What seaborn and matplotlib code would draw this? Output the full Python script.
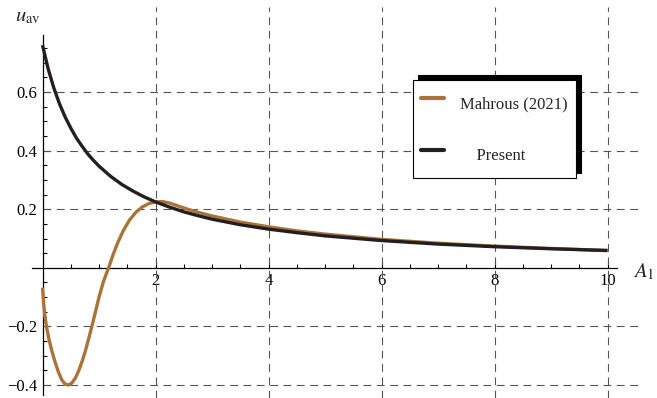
import numpy as np
import pandas as pd
import matplotlib
matplotlib.use("Agg")
import matplotlib.pyplot as plt
import seaborn as sns
from matplotlib.ticker import FixedLocator

# ---------------- data ----------------
mahrous_x = [0.00, 0.02, 0.04, 0.07, 0.11, 0.16, 0.22, 0.28, 0.34, 0.40, 0.46,
             0.52, 0.58, 0.64, 0.70, 0.76, 0.82, 0.88, 0.94, 1.00, 1.08, 1.17,
             1.25, 1.33, 1.43, 1.54, 1.65, 1.77, 1.88, 2.00, 2.12, 2.25, 2.40,
             2.60, 2.80, 3.00, 3.50, 4.00, 4.50, 5.00, 6.00, 7.00, 8.00, 9.00, 10.0]
mahrous_y = [-0.068, -0.120, -0.160, -0.200, -0.240, -0.280, -0.320, -0.355,
             -0.382, -0.397, -0.400, -0.393, -0.377, -0.352, -0.320, -0.283,
             -0.240, -0.195, -0.148, -0.100, -0.046, 0.000, 0.045, 0.085,
             0.127, 0.163, 0.189, 0.208, 0.219, 0.225, 0.226, 0.221, 0.211,
             0.198, 0.187, 0.177, 0.156, 0.140, 0.126, 0.115, 0.097, 0.084,
             0.074, 0.066, 0.059]

present_x = [0.0, 0.1, 0.2, 0.3, 0.4, 0.5, 0.6, 0.7, 0.8, 0.9, 1.0, 1.2, 1.4,
             1.6, 1.8, 2.0, 2.25, 2.5, 2.75, 3.0, 3.5, 4.0, 4.5, 5.0, 5.5, 6.0,
             7.0, 8.0, 9.0, 10.0]
present_y = [0.760, 0.679, 0.614, 0.560, 0.515, 0.477, 0.443, 0.415, 0.389,
             0.367, 0.347, 0.313, 0.285, 0.262, 0.242, 0.225, 0.207, 0.191,
             0.178, 0.166, 0.147, 0.132, 0.120, 0.109, 0.101, 0.093, 0.081,
             0.072, 0.065, 0.059]

series_names = ["Mahrous (2021)", "Present"]
legend_labels = ["Mahrous (2021)", "    Present"]
series_colors = ["#A8743A", "#231F20"]
x_ticks = [2, 4, 6, 8, 10]
y_ticks = [-0.4, -0.2, 0.2, 0.4, 0.6]
x_label = r"$A_{1}$"
y_label = r"$u_{\mathrm{av}}$"

df = pd.concat([
    pd.DataFrame({"x": mahrous_x, "y": mahrous_y, "series": series_names[0]}),
    pd.DataFrame({"x": present_x, "y": present_y, "series": series_names[1]}),
], ignore_index=True)

# ---------------- style ----------------
sns.set_style("white")
plt.rcParams["font.family"] = ["Liberation Serif", "DejaVu Serif"]
plt.rcParams["mathtext.fontset"] = "stix"
plt.rcParams["axes.unicode_minus"] = True

W, H = 657, 398
fig = plt.figure(figsize=(W / 100, H / 100), dpi=100)

xlim = (-0.25, 10.59)
ylim = (-0.444, 0.891)
x0px, xscale = 42.5, 56.5
y0px, yscale = 267.8, 293.0
left_px = x0px + xlim[0] * xscale
right_px = x0px + xlim[1] * xscale
top_px = y0px - ylim[1] * yscale
bot_px = y0px - ylim[0] * yscale
ax = fig.add_axes([left_px / W, 1 - bot_px / H, (right_px - left_px) / W, (bot_px - top_px) / H])
ax.set_facecolor("none")
fig.patch.set_facecolor("white")

sns.lineplot(data=df, x="x", y="y", hue="series", hue_order=series_names,
             palette=dict(zip(series_names, series_colors)), linewidth=2.4,
             sort=False, estimator=None, ax=ax, zorder=3)
for ln in ax.get_lines():
    ln.set_solid_joinstyle("round")
    ln.set_solid_capstyle("butt")

ax.set_xlim(*xlim)
ax.set_ylim(*ylim)

# grid (dashed) at the major ticks
grid_kw = dict(color="#555555", linewidth=0.8, linestyle=(0, (7, 5)), zorder=1)
for xv in x_ticks:
    ax.axvline(xv, **grid_kw)
frac0 = (0 - xlim[0]) / (xlim[1] - xlim[0])
for yv in y_ticks:
    ax.axhline(yv, xmin=frac0, xmax=1, **grid_kw)

# axes through the origin
for s in ["top", "right"]:
    ax.spines[s].set_visible(False)
ax.spines["left"].set_position(("data", 0))
ax.spines["bottom"].set_position(("data", 0))
ax.spines["left"].set_bounds(-0.433, 0.795)
ax.spines["bottom"].set_bounds(-0.185, 10.17)
for s in ["left", "bottom"]:
    ax.spines[s].set_color("black")
    ax.spines[s].set_linewidth(0.9)
    ax.spines[s].set_zorder(2)

ax.set_xticks(x_ticks)
ax.set_yticks(y_ticks)
ax.xaxis.set_minor_locator(FixedLocator([v / 2 for v in range(1, 21) if v % 4 != 0]))
ax.yaxis.set_minor_locator(FixedLocator([round(v * 0.05, 2) for v in range(-8, 16)
                                         if v % 4 != 0 and v != 0]))
ax.tick_params(which="both", direction="in", colors="black", width=0.8,
               bottom=True, left=True, labelsize=12)
ax.tick_params(which="major", length=5)
ax.tick_params(which="minor", length=3)
ax.tick_params(axis="x", pad=4)
ax.tick_params(axis="y", pad=4)
ax.set_xlabel("")
ax.set_ylabel("")

# axis labels
fig.text(15 / W, 1 - 21 / H, y_label, fontsize=15, va="baseline", ha="left")
fig.text(633 / W, 1 - 277 / H, x_label, fontsize=15, va="baseline", ha="left")

# legend
old = ax.get_legend()
handles = old.legend_handles
old.remove()
leg = ax.legend(handles, legend_labels, loc="upper left",
                bbox_to_anchor=(413 / W, 1 - 80 / H), bbox_transform=fig.transFigure,
                borderaxespad=0, fontsize=12, frameon=True, fancybox=False,
                framealpha=1, facecolor="white", edgecolor="black",
                borderpad=0.5, handleheight=2.3, labelspacing=1.4,
                handlelength=1.35, handletextpad=1.0,
                shadow={"ox": 3.5, "oy": 3.5, "shade": 1.0, "alpha": 1.0})
leg.get_frame().set_linewidth(0.8)
for h in leg.legend_handles:
    h.set_linewidth(3)
leg.set_zorder(5)

fig.savefig("out.png", dpi=100)
